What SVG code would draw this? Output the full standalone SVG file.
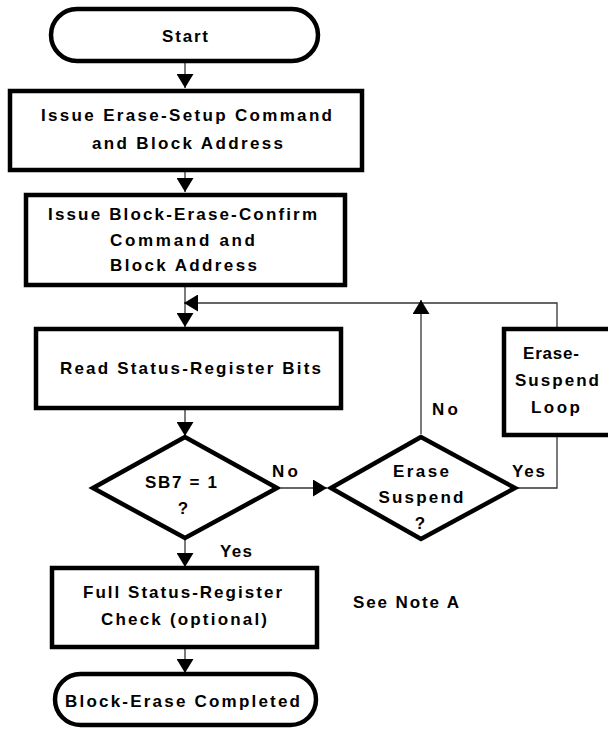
<svg xmlns="http://www.w3.org/2000/svg" width="608" height="729" viewBox="0 0 608 729">
  <style>
    .shape { fill: #ffffff; stroke: #000000; stroke-width: 4.5; stroke-linejoin: miter; }
    .t { font-family: "Liberation Sans", Arial, sans-serif; font-weight: bold; font-size: 17px; fill: #000000; text-anchor: middle; }
    .conn { fill: none; stroke: #333333; stroke-width: 1.3; }
  </style>
  <defs>
    <marker id="ah" viewBox="0 0 14 17" refX="14" refY="8.5" markerWidth="14" markerHeight="17" orient="auto" markerUnits="userSpaceOnUse">
      <path d="M0,0 L14,8.5 L0,17 Z" fill="#000000"/>
    </marker>
  </defs>
  <rect x="0" y="0" width="608" height="729" fill="#ffffff"/>

  <g id="connectors">
    <path class="conn" d="M185,63 V88" marker-end="url(#ah)"/>
    <path class="conn" d="M185,172 V192" marker-end="url(#ah)"/>
    <path class="conn" d="M185,287 V327" marker-end="url(#ah)"/>
    <path class="conn" d="M557,327 V303 H184" marker-end="url(#ah)"/>
    <path class="conn" d="M421,434 V300" marker-end="url(#ah)"/>
    <path class="conn" d="M185,410 V436" marker-end="url(#ah)"/>
    <path class="conn" d="M281,488 H327" marker-end="url(#ah)"/>
    <path class="conn" d="M516,488 H557 V437"/>
    <path class="conn" d="M185,540 V567" marker-end="url(#ah)"/>
    <path class="conn" d="M185,649 V673" marker-end="url(#ah)"/>
  </g>

  <g id="start">
    <rect class="shape" x="51" y="9" width="267" height="52" rx="26" ry="26"/>
    <text class="t" x="185" y="42" textLength="46" lengthAdjust="spacing">Start</text>
  </g>

  <g id="erase-setup">
    <rect class="shape" x="10" y="91" width="352" height="79"/>
    <text class="t" x="186.5" y="121" textLength="291" lengthAdjust="spacing">Issue Erase-Setup Command</text>
    <text class="t" x="187.5" y="149" textLength="191" lengthAdjust="spacing">and Block Address</text>
  </g>

  <g id="erase-confirm">
    <rect class="shape" x="26" y="195" width="319" height="90"/>
    <text class="t" x="182.5" y="220" textLength="269" lengthAdjust="spacing">Issue Block-Erase-Confirm</text>
    <text class="t" x="182.5" y="246" textLength="145" lengthAdjust="spacing">Command and</text>
    <text class="t" x="183.5" y="271" textLength="147" lengthAdjust="spacing">Block Address</text>
  </g>

  <g id="read-status">
    <rect class="shape" x="36" y="329" width="305" height="79"/>
    <text class="t" x="190.5" y="374" textLength="261" lengthAdjust="spacing">Read Status-Register Bits</text>
  </g>

  <g id="sb7-decision">
    <polygon class="shape" points="185,437 93,488 185,538 277,488"/>
    <text class="t" x="181" y="488" textLength="72" lengthAdjust="spacing">SB7 = 1</text>
    <text class="t" x="183" y="514">?</text>
  </g>

  <g id="erase-suspend-decision">
    <polygon class="shape" points="421,437 331,488 421,539 515,488"/>
    <text class="t" x="421" y="477" textLength="56" lengthAdjust="spacing">Erase</text>
    <text class="t" x="421" y="503" textLength="85" lengthAdjust="spacing">Suspend</text>
    <text class="t" x="420" y="529">?</text>
  </g>

  <g id="erase-suspend-loop">
    <rect class="shape" x="504" y="329" width="110" height="106"/>
    <text class="t" x="551" y="359" textLength="56" lengthAdjust="spacing">Erase-</text>
    <text class="t" x="557" y="386" textLength="84" lengthAdjust="spacing">Suspend</text>
    <text class="t" x="555.5" y="413" textLength="49" lengthAdjust="spacing">Loop</text>
  </g>

  <g id="full-status-check">
    <rect class="shape" x="52" y="568" width="265" height="79"/>
    <text class="t" x="182.5" y="598" textLength="199" lengthAdjust="spacing">Full Status-Register</text>
    <text class="t" x="184" y="625" textLength="166" lengthAdjust="spacing">Check (optional)</text>
  </g>

  <g id="completed">
    <rect class="shape" x="55" y="674" width="261" height="51" rx="25.5" ry="25.5"/>
    <text class="t" x="182.5" y="707" textLength="235" lengthAdjust="spacing">Block-Erase Completed</text>
  </g>

  <g id="labels">
    <text class="t" x="285" y="477" textLength="26" lengthAdjust="spacing">No</text>
    <text class="t" x="445" y="415" textLength="26" lengthAdjust="spacing">No</text>
    <text class="t" x="528.5" y="477" textLength="33" lengthAdjust="spacing">Yes</text>
    <text class="t" x="236" y="557" textLength="32" lengthAdjust="spacing">Yes</text>
    <text class="t" x="406" y="608" textLength="106" lengthAdjust="spacing">See Note A</text>
  </g>
</svg>
